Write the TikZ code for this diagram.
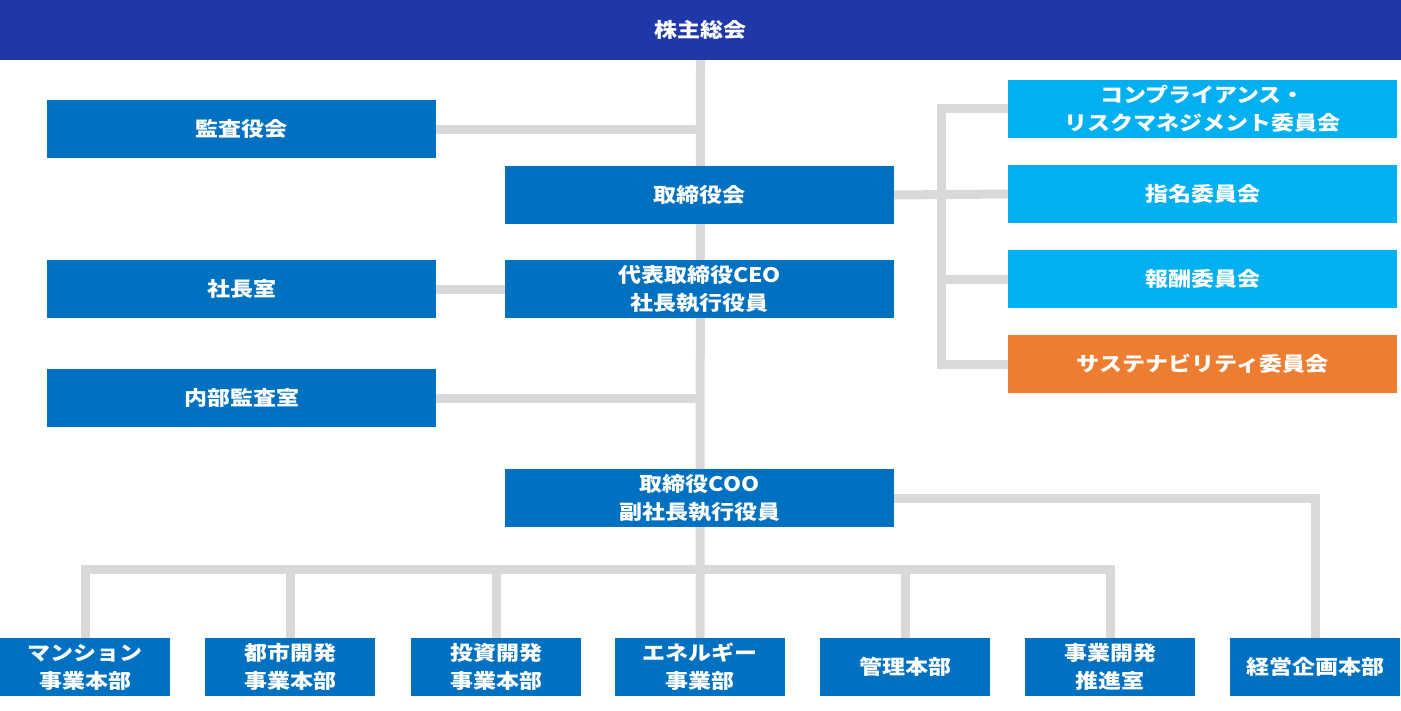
\documentclass[tikz,border=0pt]{standalone}
\usepackage{fontspec}
\setmainfont{Noto Sans CJK JP}[FakeStretch=1.15]
\usetikzlibrary{backgrounds}
\definecolor{topblue}{HTML}{1F38A8}
\definecolor{boxblue}{HTML}{0070C0}
\definecolor{cyanbox}{HTML}{00B0F0}
\definecolor{orangebox}{HTML}{ED7D31}
\definecolor{linegray}{HTML}{D9D9D9}
\tikzset{
  unitbox/.style={rectangle, inner sep=0pt, text=white, align=center,
    font=\fontsize{20}{28}\selectfont\bfseries, minimum height=58pt},
  widebox/.style={unitbox, fill=boxblue, minimum width=389pt},
  commbox/.style={unitbox, fill=cyanbox, minimum width=389pt},
  smallbox/.style={unitbox, fill=boxblue, minimum width=170pt},
  conn/.style={draw=linegray, line width=9pt, line join=miter}
}
\begin{document}
\begin{tikzpicture}[x=1pt,y=-1pt]
\useasboundingbox (0,0) rectangle (1401,710);
\node[unitbox, fill=topblue, minimum width=1401pt, minimum height=60pt] (top) at (700.5,30) {株主総会};
\node[widebox] (kansa) at (241.5,129) {監査役会};
\node[widebox] (board) at (699.5,195) {取締役会};
\node[widebox] (ceo) at (699.5,289) {代表取締役CEO\\社長執行役員};
\node[widebox] (shacho) at (241.5,289) {社長室};
\node[widebox] (naibu) at (241.5,398) {内部監査室};
\node[widebox] (coo) at (699.5,498) {取締役COO\\副社長執行役員};
\node[commbox] (c1) at (1202.5,108.5) {コンプライアンス・\\リスクマネジメント委員会};
\node[commbox] (c2) at (1202.5,194) {指名委員会};
\node[commbox] (c3) at (1202.5,279) {報酬委員会};
\node[unitbox, fill=orangebox, minimum width=389pt] (c4) at (1202.5,364) {サステナビリティ委員会};
\node[smallbox] (b1) at (85,667) {マンション\\事業本部};
\node[smallbox] (b2) at (290,667) {都市開発\\事業本部};
\node[smallbox] (b3) at (496,667) {投資開発\\事業本部};
\node[smallbox] (b4) at (700,667) {エネルギー\\事業部};
\node[smallbox] (b5) at (905,667) {管理本部};
\node[smallbox] (b6) at (1110,667) {事業開発\\推進室};
\node[smallbox] (b7) at (1315,667) {経営企画本部};
\coordinate (bus) at (700,569);
\coordinate (cv) at (941,0);
\begin{scope}[on background layer]
\draw[conn] (top.south) -- (b4.north);
\draw[conn] (kansa.east) -- (kansa.east -| top.south);
\draw[conn] (naibu.east) -- (naibu.east -| top.south);
\draw[conn] (shacho.east) -- (ceo.west);
\draw[conn] (board.east) -- (c2.west);
\draw[conn] (c1.west) -- (c1.west -| cv) -- (c4.west -| cv) -- (c4.west);
\draw[conn] (c3.west) -- (c3.west -| cv);
\draw[conn] (coo.east) -- (coo.east -| b7.north) -- (b7.north);
\draw[conn] (b1.north) -- (b1.north |- bus) -- (b6.north |- bus) -- (b6.north);
\draw[conn] (b2.north) -- (b2.north |- bus);
\draw[conn] (b3.north) -- (b3.north |- bus);
\draw[conn] (b5.north) -- (b5.north |- bus);
\end{scope}
\end{tikzpicture}
\end{document}
